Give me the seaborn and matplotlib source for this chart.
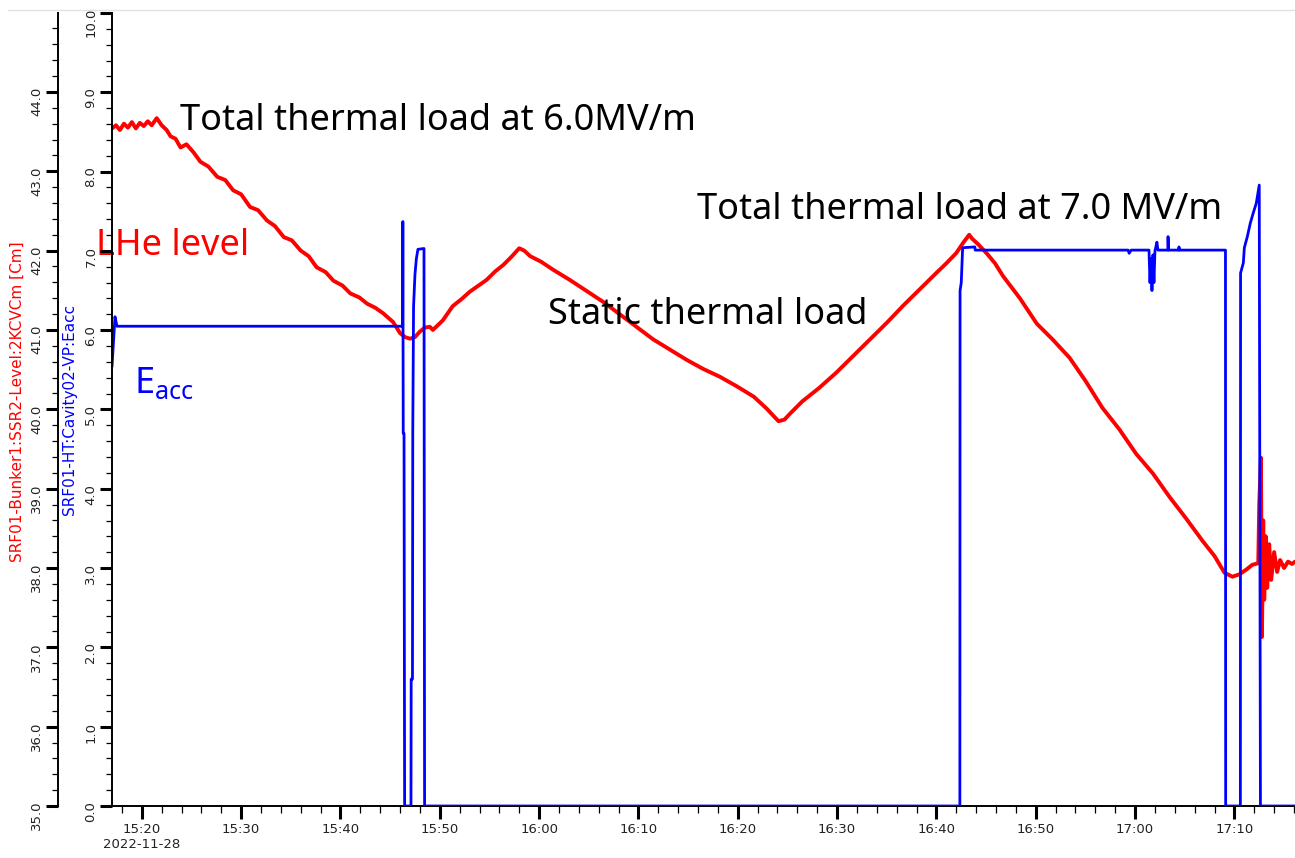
import matplotlib
matplotlib.use("Agg")
import numpy as np
import pandas as pd
import matplotlib.pyplot as plt
import matplotlib.dates as mdates
import matplotlib.ticker as mticker
from matplotlib.lines import Line2D
import seaborn as sns

# ---------------- data ----------------
start_time = "2022-11-28 15:17:00"
date_label = "2022-11-28"
x_span_minutes = [0.0, 119.1]

# LHe level [cm], minutes after 15:17
lhe_minutes = [
    0.0, 0.4, 0.8, 1.2, 1.6, 2.0, 2.4, 2.8, 3.2, 3.6,
    4.0, 4.5, 5.0, 5.5, 5.9, 6.4, 6.9, 7.5, 8.2, 8.9,
    9.7, 10.6, 11.4, 12.2, 13.0, 13.9, 14.7, 15.6, 16.4, 17.3,
    18.1, 19.0, 19.8, 20.6, 21.5, 22.3, 23.2, 24.0, 24.9, 25.7,
    26.5, 27.3, 28.3, 29.0, 29.5, 30.0, 30.5, 31.0, 31.5, 32.0,
    32.3, 33.3, 34.3, 35.2, 36.0, 36.9, 37.7, 38.6, 39.4, 40.2,
    41.0, 41.5, 42.1, 43.2, 44.4, 46.1, 47.8, 49.5, 51.2, 52.9,
    54.5, 56.2, 57.9, 59.5, 61.2, 62.9, 64.6, 65.9, 67.1, 67.7,
    68.3, 69.5, 71.2, 72.9, 74.6, 76.3, 78.0, 79.6, 81.3, 83.0,
    84.0, 85.0, 85.7, 86.3, 86.6, 87.2, 88.1, 88.9, 89.7, 91.4,
    93.1, 94.7, 96.4, 98.0, 99.7, 101.4, 103.1, 104.8, 106.5, 108.1,
    109.8, 111.0, 112.0, 112.8, 113.5, 114.2, 114.8, 115.4, 115.5, 115.67,
    115.77, 115.9, 116.0, 116.15, 116.3, 116.5, 116.7, 117.0, 117.3, 117.6,
    118.0, 118.4, 118.8, 119.1,
]
lhe_level = [
    43.54, 43.58, 43.52, 43.60, 43.55, 43.62, 43.54, 43.61, 43.57, 43.63,
    43.58, 43.67, 43.58, 43.52, 43.44, 43.41, 43.30, 43.34, 43.24, 43.12,
    43.06, 42.93, 42.89, 42.76, 42.71, 42.55, 42.51, 42.38, 42.31, 42.17,
    42.13, 42.00, 41.93, 41.79, 41.73, 41.62, 41.56, 41.46, 41.41, 41.33,
    41.28, 41.21, 41.10, 40.96, 40.91, 40.89, 40.91, 40.98, 41.03, 41.04,
    41.00, 41.12, 41.30, 41.39, 41.48, 41.56, 41.63, 41.74, 41.82, 41.92,
    42.03, 42.00, 41.93, 41.86, 41.76, 41.63, 41.49, 41.35, 41.19, 41.03,
    40.88, 40.75, 40.62, 40.51, 40.41, 40.29, 40.16, 40.01, 39.85, 39.87,
    39.95, 40.10, 40.27, 40.46, 40.67, 40.88, 41.09, 41.30, 41.51, 41.72,
    41.84, 41.97, 42.10, 42.20, 42.15, 42.08, 41.96, 41.84, 41.68, 41.40,
    41.08, 40.88, 40.65, 40.36, 40.02, 39.75, 39.44, 39.19, 38.89, 38.63,
    38.34, 38.15, 37.94, 37.89, 37.92, 37.98, 38.04, 38.06, 38.80, 39.39,
    37.13, 38.60, 37.60, 38.40, 37.75, 38.30, 37.85, 38.20, 37.95, 38.10,
    38.00, 38.08, 38.05, 38.08,
]

# Cavity Eacc [MV/m], minutes after 15:17
eacc_minutes = [
    0.0, 0.3, 0.5, 29.26, 29.28, 29.32, 29.40, 29.46, 30.10, 30.12,
    30.25, 30.28, 30.36, 30.5, 30.64, 30.8, 31.41, 31.47, 85.36, 85.38,
    85.5, 85.64, 86.87, 86.9, 102.3, 102.4, 102.6, 104.4, 104.5, 104.6,
    104.7, 104.8, 104.9, 105.0, 105.2, 105.3, 106.3, 106.32, 106.36, 107.4,
    107.42, 107.46, 112.1, 112.12, 113.6, 113.62, 113.9, 114.0, 114.3, 114.6,
    114.9, 115.2, 115.5, 115.62, 119.1,
]
eacc_value = [
    5.54, 6.17, 6.05, 6.05, 7.37, 4.7, 4.7, 0.0, 0.0, 1.6,
    1.6, 4.7, 6.3, 6.7, 6.9, 7.02, 7.03, 0.0, 0.0, 6.5,
    6.6, 7.04, 7.05, 7.01, 7.01, 6.97, 7.01, 7.01, 6.6, 6.9,
    6.5, 6.95, 6.6, 7.0, 7.11, 7.01, 7.01, 7.18, 7.01, 7.01,
    7.05, 7.01, 7.01, 0.0, 0.0, 6.72, 6.85, 7.04, 7.18, 7.35,
    7.48, 7.6, 7.83, 0.0, 0.0,
]

lhe_ylim = [35.0, 44.995]
eacc_ylim = [0.0, 10.0]
lhe_axis_label = "SRF01-Bunker1:SSR2-Level:2KCVCm [Cm]"
eacc_axis_label = "SRF01-HT:Cavity02-VP:Eacc"

# annotations: (text, minutes after 15:17, value on LHe axis, colour)
note_texts = ["Total thermal load at 6.0MV/m", "Total thermal load at 7.0 MV/m",
              "LHe level", "Static thermal load", r"$\mathrm{E}_{\mathrm{acc}}$"]
note_minutes = [6.89, 58.9, -1.66, 43.9, 2.17]
note_levels = [43.52, 42.40, 41.95, 41.07, 40.21]
note_colors = ["black", "black", "#ff0000", "black", "#0000ff"]

# ---------------- figure ----------------
sns.set_theme(style="white")
plt.rcParams["font.family"] = ["DejaVu Sans"]
plt.rcParams["mathtext.fontset"] = "custom"
plt.rcParams["mathtext.rm"] = "Noto Sans"
plt.rcParams["mathtext.it"] = "Noto Sans:italic"

W, H = 1295, 858
fig = plt.figure(figsize=(W / 100, H / 100), dpi=100)
fig.patch.set_facecolor("white")
ax = fig.add_axes([112 / W, (H - 806) / H, (W - 112) / W, (806 - 13) / H])
ax2 = ax.twinx()

t0 = pd.Timestamp(start_time)
lhe = pd.DataFrame({"time": t0 + pd.to_timedelta(lhe_minutes, unit="m"), "level": lhe_level})
eacc = pd.DataFrame({"time": t0 + pd.to_timedelta(eacc_minutes, unit="m"), "eacc": eacc_value})

sns.lineplot(data=lhe, x="time", y="level", ax=ax, color="#ff0000", linewidth=2.8,
             sort=False, estimator=None)
sns.lineplot(data=eacc, x="time", y="eacc", ax=ax2, color="#0000ff", linewidth=2.0,
             sort=False, estimator=None)

ax.set_xlim(t0 + pd.Timedelta(minutes=x_span_minutes[0]),
            t0 + pd.Timedelta(minutes=x_span_minutes[1]))
ax.set_ylim(*lhe_ylim)
ax2.set_ylim(*eacc_ylim)
ax.set_facecolor("white")
ax.grid(False)
ax2.grid(False)

# spines
ax.spines["left"].set_position(("axes", -54 / (W - 112)))
for s in ["top", "right"]:
    ax.spines[s].set_visible(False)
for s in ["top", "right", "bottom"]:
    ax2.spines[s].set_visible(False)
ax2.spines["left"].set_visible(True)
for a in (ax, ax2):
    a.spines["left"].set_color("black")
    a.spines["left"].set_linewidth(1.4)
ax.spines["bottom"].set_color("black")
ax.spines["bottom"].set_linewidth(1.4)

ax2.yaxis.tick_left()
ax2.yaxis.set_label_position("left")

# y ticks
for a in (ax, ax2):
    a.yaxis.set_major_locator(mticker.MultipleLocator(1.0))
    a.yaxis.set_minor_locator(mticker.MultipleLocator(0.2))
    a.yaxis.set_major_formatter(mticker.FormatStrFormatter("%.1f"))
    a.tick_params(axis="y", which="major", left=True, right=False, direction="out",
                  length=8.5, width=2.2, color="black", labelsize=9.5,
                  labelcolor="#222222", labelrotation=90, pad=2)
    a.tick_params(axis="y", which="minor", left=True, right=False, direction="out",
                  length=4.2, width=0.9, color="black")

# x ticks
ax.xaxis.set_major_locator(mdates.MinuteLocator(byminute=range(0, 60, 10)))
ax.xaxis.set_minor_locator(mdates.MinuteLocator(byminute=range(0, 60, 2)))


def time_fmt(x, pos):
    s = mdates.num2date(x).strftime("%H:%M")
    if pos == 0:
        s += "\n" + date_label
    return s


ax.xaxis.set_major_formatter(mticker.FuncFormatter(time_fmt))
ax.tick_params(axis="x", which="major", bottom=True, direction="out", length=9,
               width=2.2, color="black", labelsize=9.5, labelcolor="#222222", pad=3)
ax.tick_params(axis="x", which="minor", bottom=True, direction="out", length=5,
               width=0.9, color="black")

# axis labels
ax.set_xlabel("")
ax.set_ylabel(lhe_axis_label, color="#ff0000", fontsize=11)
ax.yaxis.set_label_coords(-0.0735, 0.51)
ax2.set_ylabel(eacc_axis_label, color="#0000ff", fontsize=11)
ax2.yaxis.set_label_coords(-0.0296, 0.50)

# annotations
for txt, m, lv, c in zip(note_texts, note_minutes, note_levels, note_colors):
    ax.text(mdates.date2num(t0 + pd.Timedelta(minutes=m)), lv, txt, color=c,
            fontsize=26, family="Noto Sans", ha="left", va="baseline",
            clip_on=False, zorder=10)

# thin frame line at the top of the picture
fig.add_artist(Line2D([8 / W, 1.0], [1 - 10 / H, 1 - 10 / H], transform=fig.transFigure,
                      color="#e2e2e2", linewidth=1.0))

fig.savefig("out.png", dpi=100, facecolor="white")
